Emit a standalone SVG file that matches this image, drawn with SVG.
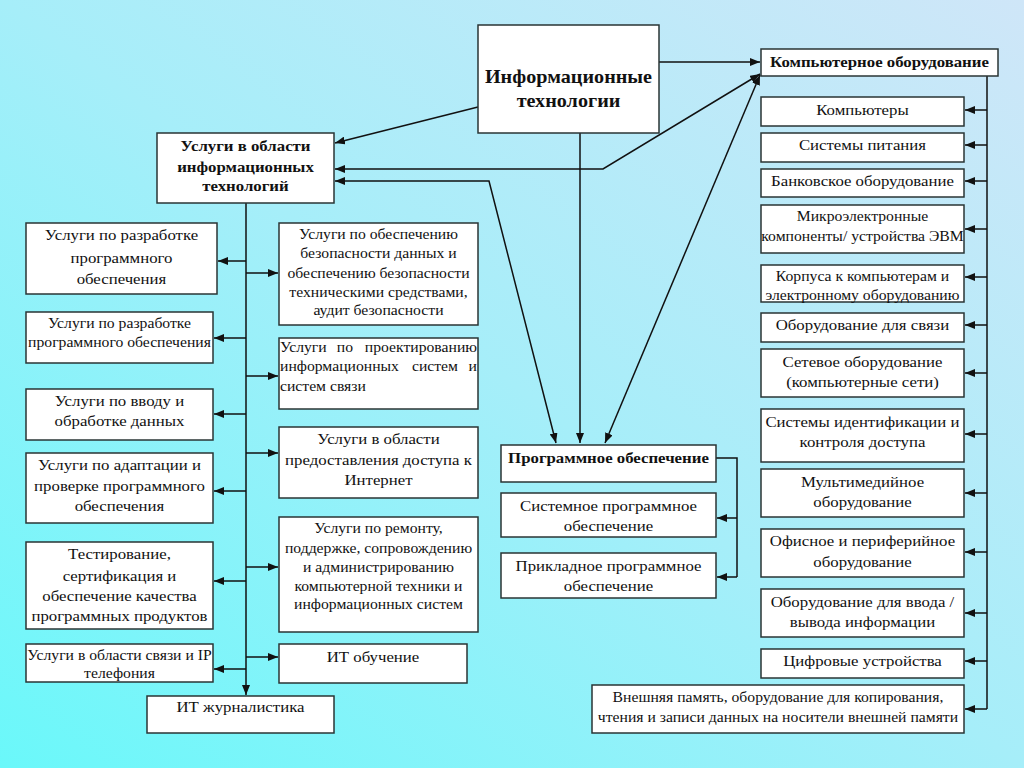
<svg xmlns="http://www.w3.org/2000/svg" width="1024" height="768" viewBox="0 0 1024 768">
<defs>
<linearGradient id="bg" x1="1" y1="0" x2="0" y2="1">
<stop offset="0" stop-color="#cfe6f8"/>
<stop offset="0.5" stop-color="#a6eef9"/>
<stop offset="1" stop-color="#6af8fa"/>
</linearGradient>
<marker id="ah" markerUnits="userSpaceOnUse" markerWidth="10" markerHeight="8" refX="10" refY="4" orient="auto-start-reverse">
<path d="M0,0 L10,4 L0,8 z" fill="#111"/>
</marker>
<style>
rect.b{fill:#fff;stroke:#2a3535;stroke-width:1.5}
text{fill:#111;text-anchor:middle;transform-box:fill-box;transform-origin:center;transform:scaleX(1.12)}
text.s{text-anchor:start;transform-origin:left center}
text.e{text-anchor:end;transform-origin:right center}
.t15{font-size:15px}
.t14{font-size:14px}
.t13{font-size:13px}
.bold{font-weight:bold}
#connectors line,#connectors polyline{stroke:#111;stroke-width:1.5;fill:none}
.a{marker-end:url(#ah)}
.d{marker-start:url(#ah);marker-end:url(#ah)}
</style>
</defs>
<rect x="0" y="0" width="1024" height="768" fill="url(#bg)"/>

<g id="connectors">
<line class="a" x1="478" y1="107" x2="335" y2="143"/>
<line class="a" x1="659" y1="62" x2="760" y2="62"/>
<polyline class="d" points="335,169 603,169 760,74"/>
<polyline class="d" points="335,181 489,181 556,443"/>
<line class="a" x1="580" y1="133" x2="580" y2="443"/>
<line class="d" x1="605" y1="443" x2="760" y2="75"/>
<line class="a" x1="246" y1="203" x2="246" y2="695"/>
<line class="a" x1="246" y1="261" x2="218" y2="261"/>
<line class="a" x1="246" y1="338" x2="214" y2="338"/>
<line class="a" x1="246" y1="414" x2="214" y2="414"/>
<line class="a" x1="246" y1="491" x2="214" y2="491"/>
<line class="a" x1="246" y1="581" x2="214" y2="581"/>
<line class="a" x1="246" y1="669" x2="214" y2="669"/>
<line class="a" x1="246" y1="273" x2="278" y2="273"/>
<line class="a" x1="246" y1="376" x2="278" y2="376"/>
<line class="a" x1="246" y1="453" x2="278" y2="453"/>
<line class="a" x1="246" y1="567" x2="278" y2="567"/>
<line class="a" x1="246" y1="657" x2="278" y2="657"/>
<line x1="987" y1="76" x2="987" y2="709"/>
<line class="a" x1="987" y1="110" x2="965" y2="110"/>
<line class="a" x1="987" y1="145" x2="965" y2="145"/>
<line class="a" x1="987" y1="181" x2="965" y2="181"/>
<line class="a" x1="987" y1="229" x2="965" y2="229"/>
<line class="a" x1="987" y1="277" x2="965" y2="277"/>
<line class="a" x1="987" y1="325" x2="965" y2="325"/>
<line class="a" x1="987" y1="373" x2="965" y2="373"/>
<line class="a" x1="987" y1="434" x2="965" y2="434"/>
<line class="a" x1="987" y1="493" x2="965" y2="493"/>
<line class="a" x1="987" y1="552" x2="965" y2="552"/>
<line class="a" x1="987" y1="613" x2="965" y2="613"/>
<line class="a" x1="987" y1="661" x2="965" y2="661"/>
<line class="a" x1="987" y1="709" x2="965" y2="709"/>
<polyline points="716,458 737,458 737,577"/>
<line class="a" x1="737" y1="518" x2="717" y2="518"/>
<line class="a" x1="737" y1="577" x2="717" y2="577"/>
</g>

<g font-family="'Liberation Serif', 'Times New Roman', serif">
<g id="n-it">
<rect class="b" x="478" y="25" width="181" height="108"/>
<text class="bold" style="font-size:18px" x="568.5" y="83">Информационные</text>
<text class="bold" style="font-size:18px" x="568.5" y="107">технологии</text>
</g>
<g id="n-uslugi">
<rect class="b" x="157" y="133" width="177" height="70"/>
<text class="bold t15" x="245.5" y="151">Услуги в области</text>
<text class="bold t15" x="245.5" y="172">информационных</text>
<text class="bold t15" x="245.5" y="191">технологий</text>
</g>
<g id="n-komp">
<rect class="b" x="761" y="49" width="237" height="27"/>
<text class="bold t15" x="879.5" y="67">Компьютерное оборудование</text>
</g>
<g id="n-prog">
<rect class="b" x="501" y="445" width="215" height="37"/>
<text class="bold t15" x="608.5" y="463">Программное обеспечение</text>
</g>
<g id="n-sys">
<rect class="b" x="501" y="493" width="215" height="44"/>
<text class="t15" x="608.5" y="511">Системное программное</text>
<text class="t15" x="608.5" y="531">обеспечение</text>
</g>
<g id="n-prik">
<rect class="b" x="501" y="553" width="215" height="45"/>
<text class="t15" x="608.5" y="571">Прикладное программное</text>
<text class="t15" x="608.5" y="591">обеспечение</text>
</g>

<g id="n-r1"><rect class="b" x="761" y="97" width="203" height="29"/><text class="t15" x="862.5" y="115">Компьютеры</text></g>
<g id="n-r2"><rect class="b" x="761" y="133" width="203" height="29"/><text class="t15" x="862.5" y="150">Системы питания</text></g>
<g id="n-r3"><rect class="b" x="761" y="169" width="203" height="28"/><text class="t15" x="862.5" y="186">Банковское оборудование</text></g>
<g id="n-r4"><rect class="b" x="761" y="205" width="203" height="48"/><text class="t14" x="862.5" y="221">Микроэлектронные</text><text class="t14" x="862.5" y="241">компоненты/ устройства ЭВМ</text></g>
<g id="n-r5"><rect class="b" x="761" y="265" width="203" height="37"/><text class="t14" x="862.5" y="281">Корпуса к компьютерам и</text><text class="t14" x="862.5" y="300">электронному оборудованию</text></g>
<g id="n-r6"><rect class="b" x="761" y="313" width="203" height="29"/><text class="t15" x="862.5" y="330">Оборудование для связи</text></g>
<g id="n-r7"><rect class="b" x="761" y="349" width="203" height="48"/><text class="t15" x="862.5" y="367">Сетевое оборудование</text><text class="t15" x="862.5" y="387">(компьютерные сети)</text></g>
<g id="n-r8"><rect class="b" x="761" y="409" width="203" height="53"/><text class="t15" x="862.5" y="427">Системы идентификации и</text><text class="t15" x="862.5" y="447">контроля доступа</text></g>
<g id="n-r9"><rect class="b" x="761" y="469" width="203" height="48"/><text class="t15" x="862.5" y="487">Мультимедийное</text><text class="t15" x="862.5" y="507">оборудование</text></g>
<g id="n-r10"><rect class="b" x="761" y="529" width="203" height="48"/><text class="t15" x="862.5" y="546">Офисное и периферийное</text><text class="t15" x="862.5" y="567">оборудование</text></g>
<g id="n-r11"><rect class="b" x="761" y="589" width="203" height="48"/><text class="t15" x="862.5" y="607">Оборудование для ввода /</text><text class="t15" x="862.5" y="627">вывода информации</text></g>
<g id="n-r12"><rect class="b" x="761" y="649" width="203" height="29"/><text class="t15" x="862.5" y="666">Цифровые устройства</text></g>
<g id="n-r13"><rect class="b" x="592" y="685" width="372" height="48"/><text class="t14" x="778" y="702">Внешняя память, оборудование для копирования,</text><text class="t14" x="778" y="722">чтения и записи данных на носители внешней памяти</text></g>

<g id="n-l1"><rect class="b" x="26" y="223" width="191" height="71"/><text class="t15" x="121.5" y="240">Услуги по разработке</text><text class="t15" x="121.5" y="263">программного</text><text class="t15" x="121.5" y="284">обеспечения</text></g>
<g id="n-l2"><rect class="b" x="26" y="312" width="187" height="51"/><text class="t14" x="119.5" y="328">Услуги по разработке</text><text class="t14" x="119.5" y="347">программного обеспечения</text></g>
<g id="n-l3"><rect class="b" x="26" y="389" width="187" height="51"/><text class="t15" x="119.5" y="406">Услуги по вводу и</text><text class="t15" x="119.5" y="426">обработке данных</text></g>
<g id="n-l4"><rect class="b" x="26" y="453" width="187" height="70"/><text class="t15" x="119.5" y="470">Услуги по адаптации и</text><text class="t15" x="119.5" y="491">проверке программного</text><text class="t15" x="119.5" y="511">обеспечения</text></g>
<g id="n-l5"><rect class="b" x="26" y="542" width="187" height="87"/><text class="t15" x="119.5" y="559">Тестирование,</text><text class="t15" x="119.5" y="581">сертификация и</text><text class="t15" x="119.5" y="601">обеспечение качества</text><text class="t15" x="119.5" y="621">программных продуктов</text></g>
<g id="n-l6"><rect class="b" x="26" y="644" width="187" height="38"/><text class="t14" x="119.5" y="660">Услуги в области связи и IP</text><text class="t14" x="119.5" y="678">телефония</text></g>
<g id="n-l7"><rect class="b" x="147" y="696" width="187" height="37"/><text class="t15" x="240.5" y="712">ИТ журналистика</text></g>

<g id="n-m1"><rect class="b" x="279" y="223" width="199" height="102"/><text class="t14" x="378.5" y="239">Услуги по обеспечению</text><text class="t14" x="378.5" y="258">безопасности данных и</text><text class="t14" x="378.5" y="278">обеспечению безопасности</text><text class="t14" x="378.5" y="297">техническими средствами,</text><text class="t14" x="378.5" y="315">аудит безопасности</text></g>
<g id="n-m2"><rect class="b" x="279" y="338" width="199" height="71"/>
<text class="t14 s" x="280" y="352">Услуги</text><text class="t14" x="345" y="352">по</text><text class="t14 e" x="477" y="352">проектированию</text>
<text class="t14 s" x="280" y="371">информационных</text><text class="t14" x="435" y="371">систем</text><text class="t14 e" x="477" y="371">и</text>
<text class="t14 s" x="280" y="391">систем связи</text></g>
<g id="n-m3"><rect class="b" x="279" y="427" width="199" height="71"/><text class="t15" x="378.5" y="444">Услуги в области</text><text class="t15" x="378.5" y="465">предоставления доступа к</text><text class="t15" x="378.5" y="485">Интернет</text></g>
<g id="n-m4"><rect class="b" x="279" y="517" width="199" height="115"/><text class="t14" x="378.5" y="533">Услуги по ремонту,</text><text class="t14" x="378.5" y="553">поддержке, сопровождению</text><text class="t14" x="378.5" y="572">и администрированию</text><text class="t14" x="378.5" y="591">компьютерной техники и</text><text class="t14" x="378.5" y="609">информационных систем</text></g>
<g id="n-m5"><rect class="b" x="279" y="644" width="188" height="39"/><text class="t15" x="373" y="662">ИТ обучение</text></g>
</g>
</svg>
